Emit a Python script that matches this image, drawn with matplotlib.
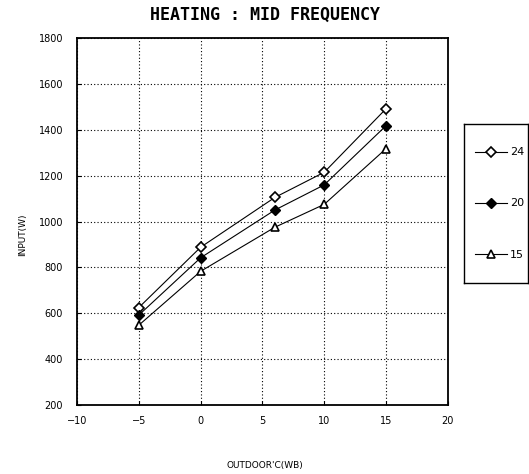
import matplotlib
matplotlib.use("Agg")
import matplotlib.pyplot as plt
from matplotlib.lines import Line2D

x_temp = [-5, 0, 6, 10, 15]
input_24 = [625, 888, 1105, 1215, 1492]
input_20 = [592, 842, 1050, 1160, 1418]
input_15 = [548, 783, 975, 1075, 1318]
series_labels = ["24", "20", "15"]
x_ticks = [-10, -5, 0, 5, 10, 15, 20]
y_ticks = [200, 400, 600, 800, 1000, 1200, 1400, 1600, 1800]

fig = plt.figure(figsize=(5.29, 4.74), dpi=100)
ax = fig.add_axes([0.1456, 0.1456, 0.701, 0.774])

styles = [
    dict(marker="D", ms=5, mfc="white", mec="black", mew=1.2),
    dict(marker="D", ms=5, mfc="black", mec="black", mew=1.0),
    dict(marker="^", ms=6, mfc="white", mec="black", mew=1.2),
]
for ys, st in zip([input_24, input_20, input_15], styles):
    ax.plot(x_temp, ys, color="black", lw=0.8, **st)

ax.set_xlim(-10, 20)
ax.set_ylim(200, 1800)
ax.set_xticks(x_ticks)
ax.set_yticks(y_ticks)
ax.tick_params(labelsize=7, direction="in", length=3, width=0.8)
ax.grid(True, color="black", linestyle=(0, (1, 2)), linewidth=0.8)
for s in ax.spines.values():
    s.set_linewidth(1.3)
ax.tick_params(axis="x", pad=8)
ax.tick_params(axis="y", pad=10)

fig.text(0.5, 0.968, "HEATING : MID FREQUENCY", ha="center", va="center",
         family="DejaVu Sans Mono", fontsize=12, fontweight="bold")
fig.text(0.042, 0.505, "INPUT(W)", rotation=90, ha="center", va="center", fontsize=6.5)
fig.text(0.5, 0.017, "OUTDOOR'C(WB)", ha="center", va="center", fontsize=6.5)

# legend box
lax = fig.add_axes([464 / 529, 1 - 283 / 474, 64 / 529, 159 / 474])
lax.set_xticks([])
lax.set_yticks([])
for s in lax.spines.values():
    s.set_linewidth(1.0)
handles = [Line2D([], [], color="black", lw=0.8, **st) for st in styles]
lax.legend(handles, series_labels, loc="center", bbox_to_anchor=(0.56, 0.5),
           frameon=False, fontsize=8,
           labelspacing=3.7, handlelength=2.8, handletextpad=0.3,
           borderpad=0, borderaxespad=0)

fig.savefig("out.png", dpi=100)
